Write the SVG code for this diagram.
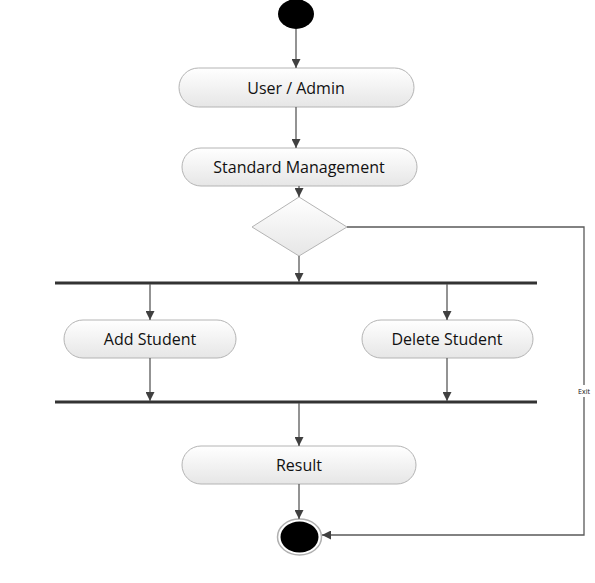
<svg xmlns="http://www.w3.org/2000/svg" width="595" height="583" viewBox="0 0 595 583">
<defs>
<linearGradient id="g" x1="0" y1="0" x2="0" y2="1">
<stop offset="0" stop-color="#ffffff"/>
<stop offset="1" stop-color="#e6e6e6"/>
</linearGradient>
<marker id="a" viewBox="0 0 10 10" refX="10" refY="5" markerWidth="9" markerHeight="9" markerUnits="userSpaceOnUse" orient="auto">
<path d="M0,0 L10,5 L0,10 z" fill="#404040"/>
</marker>
<style>
.n{fill:url(#g);stroke:#b4b4b4;stroke-width:1}
.t{font-family:"Open Sans","Noto Sans",sans-serif;font-size:16px;fill:#111;text-anchor:middle;dominant-baseline:central}
.c{fill:none;stroke:#595959;stroke-width:1.3}
.bar{stroke:#333;stroke-width:3}
</style>
</defs>
<rect width="595" height="583" fill="#fff"/>
<g id="start"><ellipse cx="296" cy="14" rx="18" ry="15" fill="#000"/></g>
<g id="user-admin"><rect class="n" x="179" y="68" width="235" height="39" rx="19.5"/><text class="t" x="296" y="87.5">User / Admin</text></g>
<g id="standard-management"><rect class="n" x="182" y="148" width="235" height="38" rx="19"/><text class="t" x="299" y="167">Standard Management</text></g>
<g id="decision"><polygon points="299,197 347,227 299,256 252,227" fill="url(#g)" stroke="#b4b4b4"/></g>
<g id="fork"><line class="bar" x1="55" y1="283" x2="537" y2="283"/></g>
<g id="add-student"><rect class="n" x="64" y="320" width="172" height="38" rx="19"/><text class="t" x="150" y="339">Add Student</text></g>
<g id="delete-student"><rect class="n" x="362" y="320" width="171" height="38" rx="19"/><text class="t" x="447" y="339">Delete Student</text></g>
<g id="join"><line class="bar" x1="55" y1="402" x2="537" y2="402"/></g>
<g id="result"><rect class="n" x="182" y="446" width="234" height="38" rx="19"/><text class="t" x="299" y="465">Result</text></g>
<g id="end"><ellipse cx="299.5" cy="537" rx="22" ry="18" fill="#fff" stroke="#b0b0b0" stroke-width="1.5"/><ellipse cx="299.5" cy="537" rx="19" ry="15.5" fill="#000"/></g>
<g id="connectors">
<line class="c" x1="296" y1="29" x2="296" y2="68" marker-end="url(#a)"/>
<line class="c" x1="296" y1="107" x2="296" y2="148" marker-end="url(#a)"/>
<line class="c" x1="299" y1="186" x2="299" y2="197" marker-end="url(#a)"/>
<line class="c" x1="299" y1="256" x2="299" y2="282" marker-end="url(#a)"/>
<line class="c" x1="150" y1="284" x2="150" y2="320" marker-end="url(#a)"/>
<line class="c" x1="447" y1="284" x2="447" y2="320" marker-end="url(#a)"/>
<line class="c" x1="150" y1="358" x2="150" y2="401" marker-end="url(#a)"/>
<line class="c" x1="447" y1="358" x2="447" y2="401" marker-end="url(#a)"/>
<line class="c" x1="299" y1="403" x2="299" y2="446" marker-end="url(#a)"/>
<line class="c" x1="299" y1="484" x2="299" y2="519" marker-end="url(#a)"/>
<polyline class="c" points="347,227 584,227 584,385"/>
<polyline class="c" points="584,397 584,535 322,535" marker-end="url(#a)"/>
<text x="584" y="391" font-family="'Open Sans','Noto Sans',sans-serif" font-size="7" fill="#111" text-anchor="middle" dominant-baseline="central">Exit</text>
</g>
</svg>
